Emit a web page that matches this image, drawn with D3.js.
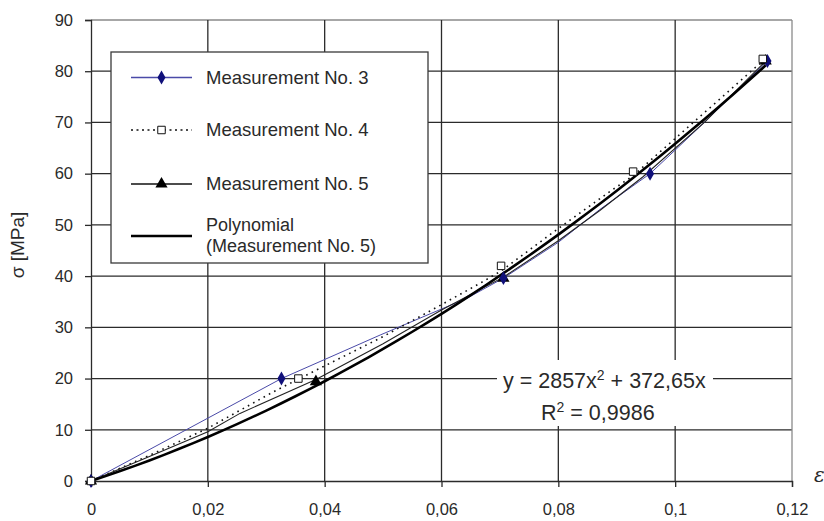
<!DOCTYPE html>
<html>
<head>
<meta charset="utf-8">
<script src="https://cdn.jsdelivr.net/npm/d3@7/dist/d3.min.js"></script>
<style>
  html, body { margin: 0; padding: 0; background: #fff; }
  svg { display: block; font-family: "Liberation Sans", Arial, sans-serif; }
</style>
</head>
<body>
<svg id="chart" width="824" height="521"></svg>
<script>
// Axis ticks
const strainTicks = [0, 0.02, 0.04, 0.06, 0.08, 0.1, 0.12];
const strainTickLabels = ["0", "0,02", "0,04", "0,06", "0,08", "0,1", "0,12"];
const stressTicks = [0, 10, 20, 30, 40, 50, 60, 70, 80, 90];

// Measurement No. 3 (recorded curve and marked readings)
const meas3Line = [[0, 0], [0.0326, 20], [0.0495, 28.5], [0.0644, 35.7], [0.0706, 39.6],
  [0.0800, 46.6], [0.0871, 53.0], [0.0957, 60], [0.1000, 64.6], [0.1048, 69.8], [0.1158, 82]];
const meas3Points = [[0, 0], [0.0326, 20], [0.0706, 39.6], [0.0957, 60], [0.1158, 82]];

// Measurement No. 4
const meas4Line = [[0, 0], [0.0100, 5.0], [0.0200, 10.3], [0.0312, 17.4], [0.0397, 22.3], [0.0495, 27.9],
  [0.0563, 32.1], [0.0666, 38.6], [0.0702, 41.0], [0.0800, 49.3], [0.0888, 56.5], [0.0928, 59.6],
  [0.1042, 71.1], [0.1150, 82]];
const meas4Points = [[0, 0], [0.0355, 20], [0.0702, 42], [0.0928, 60.4], [0.1150, 82.4]];

// Measurement No. 5
const meas5Line = [[0, 0], [0.0100, 4.8], [0.0200, 9.6], [0.0255, 13.2], [0.0385, 19.8], [0.0500, 26.8],
  [0.0600, 33.4], [0.0706, 39.8], [0.0800, 46.9], [0.0871, 52.8], [0.0945, 59.4], [0.1050, 70.0],
  [0.1155, 82]];
const meas5Points = [[0, 0], [0.0385, 19.4], [0.0706, 39.6], [0.1155, 82]];

// Second-order trend line fitted to Measurement No. 5: y = a·x² + b·x
const polyA = 2857;
const polyB = 372.65;
const polyRange = [0, 0.1155];

const svg = d3.select("#chart");
const x = d3.scaleLinear().domain([0, 0.12]).range([91, 792]);
const y = d3.scaleLinear().domain([0, 90]).range([481, 20]);

const gridColor = "#2b2b2b";
const textColor = "#2a2a2a";

// Grid lines
svg.append("g").selectAll("line").data(stressTicks.filter(d => d > 0)).join("line")
  .attr("x1", x(0)).attr("x2", x(0.12))
  .attr("y1", d => y(d)).attr("y2", d => y(d))
  .attr("stroke", d => d === 90 ? "#8a8a8a" : gridColor).attr("stroke-width", 1.3);
svg.append("g").selectAll("line").data(strainTicks.filter(d => d > 0)).join("line")
  .attr("y1", y(0)).attr("y2", y(90))
  .attr("x1", d => x(d)).attr("x2", d => x(d))
  .attr("stroke", d => d === 0.12 ? "#8a8a8a" : gridColor).attr("stroke-width", 1.3);

// Axes
const yAxis = d3.axisLeft(y).tickValues(stressTicks).tickSize(6).tickPadding(12)
  .tickFormat(d => String(d));
const gy = svg.append("g").attr("transform", `translate(${x(0)},0)`).call(yAxis);
const xAxis = d3.axisBottom(x).tickValues(strainTicks).tickSize(6).tickPadding(12)
  .tickFormat((d, i) => strainTickLabels[i]);
const gx = svg.append("g").attr("transform", `translate(0,${y(0)})`).call(xAxis);
[gx, gy].forEach(g => {
  g.select(".domain").attr("stroke", gridColor).attr("stroke-width", 1.3);
  g.selectAll(".tick line").attr("stroke", gridColor).attr("stroke-width", 1.3);
  g.selectAll(".tick text").attr("fill", textColor).attr("font-size", 16.5)
    .attr("font-family", "Liberation Sans, Arial, sans-serif");
});
gx.selectAll(".tick text").attr("dy", "0.95em");

// Axis titles
svg.append("text")
  .attr("transform", `translate(24,245) rotate(-90)`)
  .attr("text-anchor", "middle").attr("fill", textColor).attr("font-size", 19)
  .text("σ [MPa]");
svg.append("text")
  .attr("x", 814).attr("y", 482)
  .attr("fill", textColor).attr("font-size", 20).attr("font-style", "italic")
  .attr("font-family", "DejaVu Serif, serif")
  .text("ε");

// Data lines
const line = d3.line().x(d => x(d[0])).y(d => y(d[1]));

svg.append("path").datum(meas3Line).attr("d", line)
  .attr("fill", "none").attr("stroke", "#4a4aa8").attr("stroke-width", 1);
svg.append("path").datum(meas4Line).attr("d", line)
  .attr("fill", "none").attr("stroke", "#111").attr("stroke-width", 1.6)
  .attr("stroke-dasharray", "1.6,4.4");
svg.append("path").datum(meas5Line).attr("d", line)
  .attr("fill", "none").attr("stroke", "#222").attr("stroke-width", 1.1);

const polyPts = d3.range(polyRange[0], polyRange[1] + 1e-9, 0.0025)
  .concat([polyRange[1]])
  .map(e => [e, polyA * e * e + polyB * e]);
svg.append("path").datum(polyPts).attr("d", line.curve(d3.curveMonotoneX))
  .attr("fill", "none").attr("stroke", "#000").attr("stroke-width", 2.6);
line.curve(d3.curveLinear);

// Markers
const diamond = d3.symbol().type(d3.symbolDiamond).size(56);
const square = d3.symbol().type(d3.symbolSquare).size(56);
const triangle = d3.symbol().type(d3.symbolTriangle).size(64);

svg.append("g").selectAll("path").data(meas5Points).join("path")
  .attr("d", triangle).attr("transform", d => `translate(${x(d[0])},${y(d[1])})`)
  .attr("fill", "#000");
svg.append("g").selectAll("path").data(meas3Points).join("path")
  .attr("d", diamond).attr("transform", d => `translate(${x(d[0])},${y(d[1])})`)
  .attr("fill", "#10107a");
svg.append("g").selectAll("path").data(meas4Points).join("path")
  .attr("d", square).attr("transform", d => `translate(${x(d[0])},${y(d[1])})`)
  .attr("fill", "#fff").attr("stroke", "#111").attr("stroke-width", 1);

// Trend line equation
const eq = svg.append("g");
eq.append("rect").attr("x", 497).attr("y", 360).attr("width", 216).attr("height", 66).attr("fill", "#fff");
const eqText = eq.append("text").attr("x", 503).attr("y", 388)
  .attr("fill", textColor).attr("font-size", 21.5);
eqText.append("tspan").text(`y = ${polyA}x`);
eqText.append("tspan").attr("dy", -8).attr("font-size", 14).text("2");
eqText.append("tspan").attr("dy", 8).text(` + ${String(polyB).replace(".", ",")}x`);
const r2Text = eq.append("text").attr("x", 541).attr("y", 420)
  .attr("fill", textColor).attr("font-size", 21.5);
r2Text.append("tspan").text("R");
r2Text.append("tspan").attr("dy", -8).attr("font-size", 14).text("2");
r2Text.append("tspan").attr("dy", 8).text(" = 0,9986");

// Legend
const legend = svg.append("g");
legend.append("rect").attr("x", 111).attr("y", 52).attr("width", 317).attr("height", 211)
  .attr("fill", "#fff").attr("stroke", "#3a3a3a").attr("stroke-width", 1.3);

const legendItems = [
  { label: ["Measurement No. 3"], y: 77.5, stroke: "#4a4aa8", width: 1.3, dash: null, marker: diamond, fill: "#10107a", mstroke: "none" },
  { label: ["Measurement No. 4"], y: 130, stroke: "#111", width: 1.4, dash: "2,3.5", marker: square, fill: "#fff", mstroke: "#111" },
  { label: ["Measurement No. 5"], y: 184, stroke: "#111", width: 1.4, dash: null, marker: triangle, fill: "#000", mstroke: "none" },
  { label: ["Polynomial", "(Measurement No. 5)"], y: 236, stroke: "#000", width: 2.6, dash: null, marker: null }
];
legendItems.forEach(it => {
  const g = legend.append("g");
  g.append("line").attr("x1", 131).attr("x2", 192).attr("y1", it.y).attr("y2", it.y)
    .attr("stroke", it.stroke).attr("stroke-width", it.width)
    .attr("stroke-dasharray", it.dash);
  if (it.marker) {
    g.append("path").attr("d", it.marker).attr("transform", `translate(161.5,${it.y})`)
      .attr("fill", it.fill).attr("stroke", it.mstroke).attr("stroke-width", 1);
  }
  const t = g.append("text").attr("x", 206).attr("fill", textColor).attr("font-size", 18);
  if (it.label.length === 1) {
    t.attr("font-size", 18.5).attr("y", it.y).attr("dy", "0.35em").text(it.label[0]);
  } else {
    t.attr("y", it.y - 10.5).attr("dy", "0.33em").text(it.label[0]);
    g.append("text").attr("x", 206).attr("y", it.y + 10.5).attr("dy", "0.33em")
      .attr("fill", textColor).attr("font-size", 18).text(it.label[1]);
  }
});
</script>
</body>
</html>
